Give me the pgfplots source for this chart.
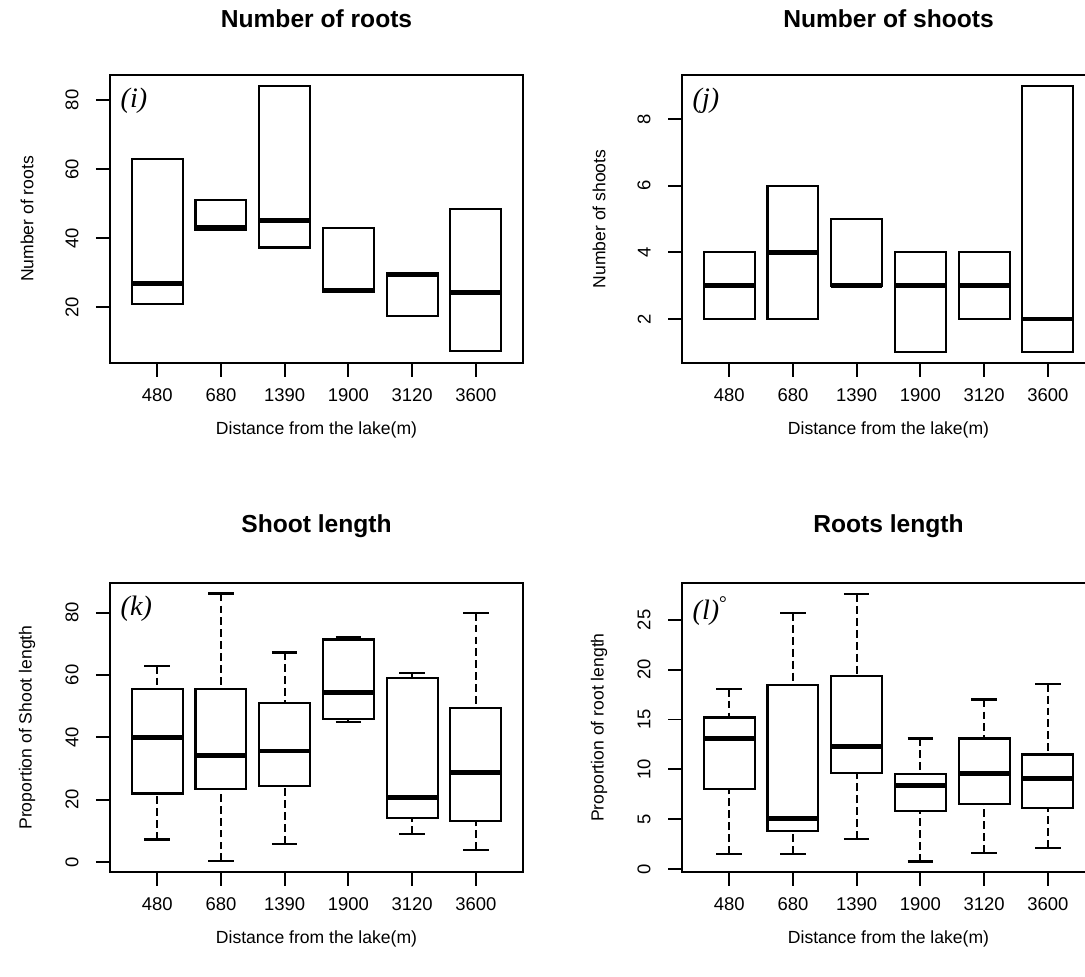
\documentclass[border=0pt]{standalone}
\usepackage{fontspec}
\setmainfont{Liberation Sans}
\newfontfamily\tnr{Liberation Serif}
\usepackage{pgfplots}
\pgfplotsset{compat=1.18}
\usepgfplotslibrary{statistics}
\pgfplotsset{
  rbox/.style={
    scale only axis, width=82.6mm, height=57.6mm,
    xmin=0.26, xmax=6.74, xtick={1,2,3,4,5,6},
    xticklabels={480,680,1390,1900,3120,3600},
    tick align=outside, major tick length=2.8mm,
    xtick pos=left, ytick pos=left,
    axis line style={line width=1.3pt},
    tick style={line width=1.1pt, black},
    /pgf/number format/assume math mode=true,
    ticklabel style={font=\fontsize{10.5}{12}\selectfont},
    xticklabel style={yshift=-1mm},
    yticklabel style={rotate=90, anchor=south, inner ysep=3.4mm},
    label style={font=\fontsize{11}{13}\selectfont},
    every axis x label/.style={at={(axis description cs:0.5,-0.233)},anchor=center},
    every axis y label/.style={at={(axis description cs:-0.201,0.5)},anchor=center,rotate=90},
    title style={font=\bfseries\fontsize{14}{16}\selectfont, at={(axis description cs:0.5,1.16)}, anchor=center},
    xlabel={Distance from the lake(m)},
    boxplot/draw direction=y,
    boxplot/box extend=0.8,
    boxplot/whisker extend=0.4,
    boxplot/every box/.style={line width=1.25pt},
    boxplot/every median/.style={line width=2.8pt},
    boxplot/draw/lower whisker/.code={%
      \draw[line width=1.2pt, dash pattern=on 4.5pt off 2.3pt]
        (boxplot cs:\pgfplotsboxplotvalue{lower whisker}) -- (boxplot cs:\pgfplotsboxplotvalue{lower quartile});
      \draw[line width=1.25pt] (boxplot whisker cs:\pgfplotsboxplotvalue{lower whisker},0) -- (boxplot whisker cs:\pgfplotsboxplotvalue{lower whisker},1);
    },
    boxplot/draw/upper whisker/.code={%
      \draw[line width=1.2pt, dash pattern=on 4.5pt off 2.3pt]
        (boxplot cs:\pgfplotsboxplotvalue{upper whisker}) -- (boxplot cs:\pgfplotsboxplotvalue{upper quartile});
      \draw[line width=1.25pt] (boxplot whisker cs:\pgfplotsboxplotvalue{upper whisker},0) -- (boxplot whisker cs:\pgfplotsboxplotvalue{upper whisker},1);
    },
  },
  bx/.style={black, solid, boxplot prepared={#1}},
}
\newcommand\plab[1]{\node[anchor=north west, inner sep=0pt, font=\tnr\itshape\fontsize{16}{16}\selectfont] at (axis description cs:0.025,0.955) {#1};}
\begin{document}
\begin{tikzpicture}
\useasboundingbox (0,0) rectangle (217mm,195.4mm);
\clip (0,0) rectangle (217mm,195.4mm);

% (i)
\begin{axis}[rbox, at={(22mm,122.8mm)}, anchor=south west,
  ymin=3.9, ymax=87.2, ytick={20,40,60,80},
  title={Number of roots}, ylabel={Number of roots}]
\addplot[bx={draw position=1, lower whisker=21, lower quartile=21, median=27, upper quartile=63, upper whisker=63}] coordinates {};
\addplot[bx={draw position=2, lower whisker=42.5, lower quartile=42.5, median=43, upper quartile=51, upper whisker=51}] coordinates {};
\addplot[bx={draw position=3, lower whisker=37.3, lower quartile=37.3, median=45, upper quartile=84, upper whisker=84}] coordinates {};
\addplot[bx={draw position=4, lower whisker=24.5, lower quartile=24.5, median=25, upper quartile=43, upper whisker=43}] coordinates {};
\addplot[bx={draw position=5, lower whisker=17.4, lower quartile=17.4, median=29.5, upper quartile=30, upper whisker=30}] coordinates {};
\addplot[bx={draw position=6, lower whisker=7.3, lower quartile=7.3, median=24.4, upper quartile=48.4, upper whisker=48.4}] coordinates {};
\plab{(i)}
\end{axis}

% (j)
\begin{axis}[rbox, at={(136.4mm,122.8mm)}, anchor=south west,
  ymin=0.68, ymax=9.32, ytick={2,4,6,8},
  title={Number of shoots}, ylabel={Number of shoots}]
\addplot[bx={draw position=1, lower whisker=2, lower quartile=2, median=3, upper quartile=4, upper whisker=4}] coordinates {};
\addplot[bx={draw position=2, lower whisker=2, lower quartile=2, median=4, upper quartile=6, upper whisker=6}] coordinates {};
\addplot[bx={draw position=3, lower whisker=3, lower quartile=3, median=3, upper quartile=5, upper whisker=5}] coordinates {};
\addplot[bx={draw position=4, lower whisker=1, lower quartile=1, median=3, upper quartile=4, upper whisker=4}] coordinates {};
\addplot[bx={draw position=5, lower whisker=2, lower quartile=2, median=3, upper quartile=4, upper whisker=4}] coordinates {};
\addplot[bx={draw position=6, lower whisker=1, lower quartile=1, median=2, upper quartile=9, upper whisker=9}] coordinates {};
\plab{(j)}
\end{axis}

% (k)
\begin{axis}[rbox, at={(22mm,21mm)}, anchor=south west, height=57.8mm,
  ymin=-3.2, ymax=89.5, ytick={0,20,40,60,80},
  title={Shoot length}, ylabel={Proportion of Shoot length}]
\addplot[bx={draw position=1, lower whisker=7.2, lower quartile=22, median=40, upper quartile=55.4, upper whisker=63}] coordinates {};
\addplot[bx={draw position=2, lower whisker=0.2, lower quartile=23.5, median=34.2, upper quartile=55.4, upper whisker=86.1}] coordinates {};
\addplot[bx={draw position=3, lower whisker=5.9, lower quartile=24.5, median=35.6, upper quartile=51.1, upper whisker=67.2}] coordinates {};
\addplot[bx={draw position=4, lower whisker=45, lower quartile=46, median=54.3, upper quartile=71.4, upper whisker=72}] coordinates {};
\addplot[bx={draw position=5, lower whisker=9, lower quartile=14.2, median=20.8, upper quartile=58.9, upper whisker=60.7}] coordinates {};
\addplot[bx={draw position=6, lower whisker=3.8, lower quartile=13.1, median=28.6, upper quartile=49.5, upper whisker=80}] coordinates {};
\plab{(k)}
\end{axis}

% (l)
\begin{axis}[rbox, at={(136.4mm,21mm)}, anchor=south west, height=57.8mm,
  ymin=-0.3, ymax=28.7, ytick={0,5,10,15,20,25},
  title={Roots length}, ylabel={Proportion of root length}]
\addplot[bx={draw position=1, lower whisker=1.5, lower quartile=8.0, median=13.1, upper quartile=15.2, upper whisker=18.1}] coordinates {};
\addplot[bx={draw position=2, lower whisker=1.5, lower quartile=3.8, median=5.1, upper quartile=18.5, upper whisker=25.7}] coordinates {};
\addplot[bx={draw position=3, lower whisker=3.0, lower quartile=9.6, median=12.3, upper quartile=19.4, upper whisker=27.6}] coordinates {};
\addplot[bx={draw position=4, lower whisker=0.75, lower quartile=5.8, median=8.4, upper quartile=9.5, upper whisker=13.1}] coordinates {};
\addplot[bx={draw position=5, lower whisker=1.6, lower quartile=6.5, median=9.55, upper quartile=13.1, upper whisker=17.0}] coordinates {};
\addplot[bx={draw position=6, lower whisker=2.1, lower quartile=6.1, median=9.05, upper quartile=11.5, upper whisker=18.6}] coordinates {};
\plab{(l)\raisebox{0.35em}{\upshape\fontsize{11}{11}\selectfont °}}
\end{axis}
\end{tikzpicture}
\end{document}
